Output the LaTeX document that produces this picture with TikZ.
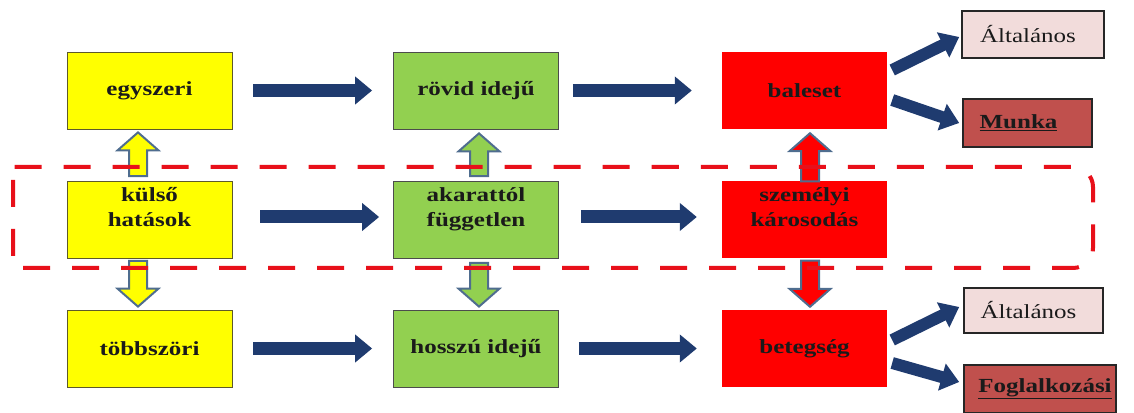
\documentclass[tikz,border=0pt]{standalone}
\usepackage{fontspec}
\setmainfont{Liberation Serif}[FakeStretch=1.25]
\usetikzlibrary{arrows.meta,calc}
\definecolor{yel}{HTML}{FFFF00}
\definecolor{grn}{HTML}{92D050}
\definecolor{rd}{HTML}{FF0000}
\definecolor{dashred}{HTML}{E8101A}
\definecolor{navy}{HTML}{1F3B6F}
\definecolor{hollout}{HTML}{4F6D8F}
\definecolor{pinkbox}{HTML}{F2DCDB}
\definecolor{darkred}{HTML}{C0504D}
\definecolor{txt}{HTML}{1A1A1A}
\newcommand\hollowarrow[3]{%
  \draw[holl, fill=#3] let \p1=(#1), \p2=(#2), \p3=($(#2)!18pt!(#1)$) in
    (\x2-9pt,\y1) -- (\x2-9pt,\y3) -- (\x2-20.5pt,\y3) -- (\x2,\y2) --
    (\x2+20.5pt,\y3) -- (\x2+9pt,\y3) -- (\x2+9pt,\y1) -- cycle;}
\begin{document}
\begin{tikzpicture}[x=1pt,y=1pt,
  bigfont/.style={font=\fontsize{20}{25}\selectfont\bfseries},
  box/.style={minimum width=165pt, minimum height=77pt, inner sep=0pt,
    align=center, bigfont, text=txt},
  ybox/.style={box, fill=yel, draw=olive!55!black, line width=0.8pt},
  gbox/.style={box, fill=grn, draw=gray!60!black, line width=0.8pt},
  rbox/.style={box, fill=rd},
  btxt/.style={align=center, bigfont, text=txt, inner sep=0pt, yshift=13pt},
  rtxt/.style={font=\fontsize{20}{25}\selectfont, text=txt, inner sep=0pt},
  pbox/.style={inner sep=0pt, fill=pinkbox, draw=black!85, line width=1.6pt},
  dbox/.style={inner sep=0pt, fill=darkred, draw=black!85, line width=1.6pt},
  harr/.style={navy, line width=13pt, -{Triangle[width=27pt,length=17pt]}},
  darr/.style={navy, line width=12pt, -{Triangle[width=27pt,length=18pt]}},
  holl/.style={draw=hollout, line width=2pt, line join=miter},
]
\useasboundingbox (0,0) rectangle (1134,412);

% main boxes
\node[ybox] (egy) at (149.5,321.5) {egyszeri};
\node[ybox, label={[btxt]center:{külső\\hatások}}] (kul) at (149.5,192) {};
\node[ybox] (tob) at (149.5,63.5) {többszöri};
\node[gbox] (rov) at (476,321.5) {rövid idejű};
\node[gbox, label={[btxt, yshift=-2pt]center:{akarattól\\független}}] (aka) at (476,192) {};
\node[gbox] (hos) at (476,63.5) {hosszú idejű};
\node[rbox] (bal) at (804.5,321.5) {baleset};
\node[rbox, label={[btxt]center:{személyi\\károsodás}}] (sze) at (804.5,192) {};
\node[rbox] (bet) at (804.5,63.5) {betegség};

% right boxes
\node[pbox, minimum width=142pt, minimum height=47pt,
  label={[rtxt, xshift=-5pt]center:Általános}] (alt1) at (1033,377.5) {};
\node[dbox, minimum width=129pt, minimum height=48pt,
  label={[rtxt, font=\fontsize{20}{25}\selectfont\bfseries, xshift=-9pt]center:\underline{Munka}}] (mun) at (1027.5,289) {};
\node[pbox, minimum width=139pt, minimum height=45pt,
  label={[rtxt, xshift=-5pt]center:Általános}] (alt2) at (1033.5,101.5) {};
\node[dbox, minimum width=152pt, minimum height=48pt,
  label={[rtxt, font=\fontsize{20}{25}\selectfont\bfseries, xshift=5pt]center:\underline{Foglalkozási}}] (fog) at (1040,23) {};

% horizontal arrows
\draw[harr] ([xshift=21pt]egy.east) -- ([xshift=-21pt]rov.west);
\draw[harr] ([xshift=14pt]rov.east) -- ([xshift=-30pt]bal.west);
\draw[harr] ([xshift=28pt,yshift=3pt]kul.east) -- ([xshift=-14pt,yshift=3pt]aka.west);
\draw[harr] ([xshift=22pt,yshift=3pt]aka.east) -- ([xshift=-25pt,yshift=3pt]sze.west);
\draw[harr] ([xshift=21pt]tob.east) -- ([xshift=-21pt]hos.west);
\draw[harr] ([xshift=20pt]hos.east) -- ([xshift=-25pt]bet.west);

% diagonal arrows
\draw[darr] ([xshift=5pt,yshift=20.5pt]bal.east) -- ([xshift=-2pt,yshift=-2.5pt]alt1.west);
\draw[darr] ([xshift=5pt,yshift=-9.5pt]bal.east) -- ([xshift=-3pt]mun.west);
\draw[darr] ([xshift=5pt,yshift=8.5pt]bet.east) -- ([xshift=-4pt,yshift=3.5pt]alt2.west);
\draw[darr] ([xshift=5pt,yshift=-14.5pt]bet.east) -- ([xshift=-4pt,yshift=7pt]fog.west);

% hollow vertical arrows
\coordinate (u1b) at ($(kul.north)+(-11.5,5)$);
\coordinate (u1t) at ($(egy.south)+(-11.5,-3)$);
\coordinate (d1b) at ($(kul.south)+(-11.5,-2)$);
\coordinate (d1t) at ($(tob.north)+(-11.5,3)$);
\coordinate (u2b) at ($(aka.north)+(3,5)$);
\coordinate (u2t) at ($(rov.south)+(3,-4)$);
\coordinate (d2b) at ($(aka.south)+(3,-4)$);
\coordinate (d2t) at ($(hos.north)+(3,3)$);
\coordinate (u3b) at ($(sze.north)+(5.5,0)$);
\coordinate (u3t) at ($(bal.south)+(5.5,-4)$);
\coordinate (d3b) at ($(sze.south)+(5.5,-2)$);
\coordinate (d3t) at ($(bet.north)+(5.5,3)$);
\hollowarrow{u1b}{u1t}{yel}
\hollowarrow{d1b}{d1t}{yel}
\hollowarrow{u2b}{u2t}{grn}
\hollowarrow{d2b}{d2t}{grn}
\hollowarrow{u3b}{u3t}{rd}
\hollowarrow{d3b}{d3t}{rd}

% dashed frame: square left corners, rounded right corners
\draw[dashred, line width=4pt, dash pattern=on 27pt off 22pt, dash phase=36pt]
  (13,245) -- (13,144) -- (1073,144)
  arc[start angle=-90, end angle=0, radius=20pt] -- (1093,225)
  arc[start angle=0, end angle=90, radius=20pt] -- cycle;
\end{tikzpicture}
\end{document}
